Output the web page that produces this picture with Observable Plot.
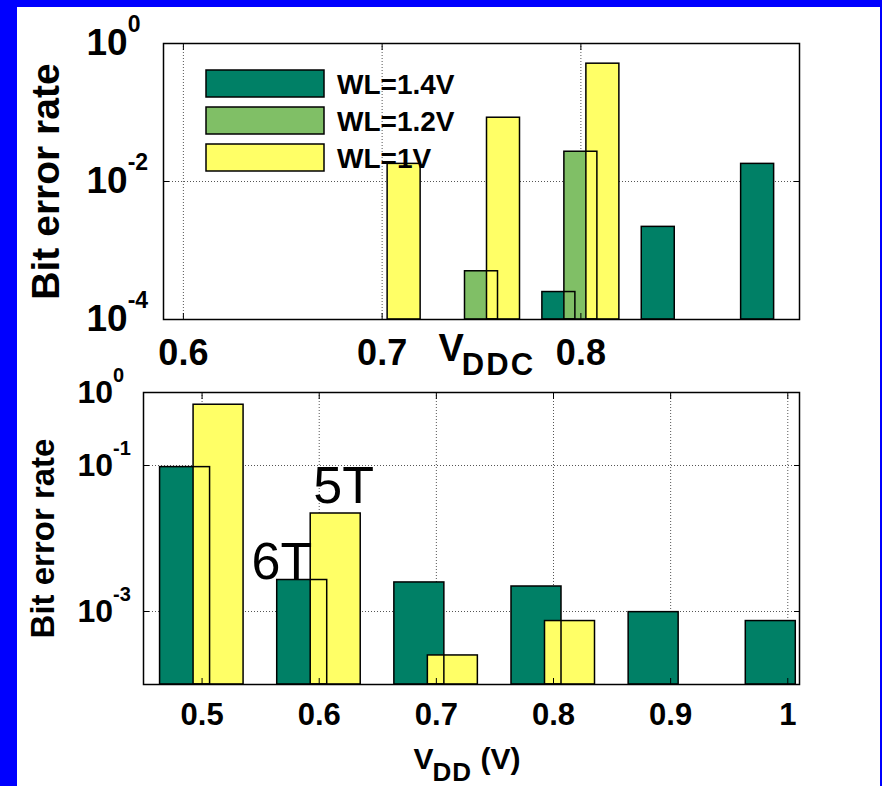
<!DOCTYPE html>
<html><head><meta charset="utf-8">
<script src="https://cdn.jsdelivr.net/npm/d3@7"></script>
<script src="https://cdn.jsdelivr.net/npm/@observablehq/plot@0.6"></script>
<style>
html,body{margin:0;padding:0;background:#0000ff;width:882px;height:786px;overflow:hidden;}
#panel{position:absolute;left:17px;top:7px;width:863px;height:779px;background:#fff;}
#top,#bottom{position:absolute;left:0;}
#top{top:0px}
#bottom{top:380px}
svg{overflow:visible}
</style></head><body>
<div id="panel"></div>
<div id="top"></div>
<div id="bottom"></div>
<script>
// ---------- top panel data ----------
const topVddc = [0.7, 0.75, 0.8, 0.85, 0.9];
const topWL14 = [null, null, 0.00025, 0.0022, 0.018];
const topWL12 = [null, 0.0005, 0.027, null, null];
const topWL10 = [0.018, 0.084, 0.51, null, null];
const topSeries = ["WL=1.4V", "WL=1.2V", "WL=1V"];
const topColors = ["#008066", "#80bf66", "#ffff66"];
const topXTicks = [0.6, 0.7, 0.8];
const topYTicks = [1e-4, 1e-2, 1];
const topXLabel = ["V", "DDC", ""];

// ---------- bottom panel data ----------
const botVdd = [0.5, 0.6, 0.7, 0.8, 0.9, 1];
const bot6T = [0.095, 0.0027, 0.0025, 0.0022, 0.00098, 0.00074];
const bot5T = [0.68, 0.022, 0.00025, 0.00074, null, null];
const botSeries = ["6T", "5T"];
const botColors = ["#008066", "#ffff66"];
const botXTicks = [0.5, 0.6, 0.7, 0.8, 0.9, 1];
const botYTicks = [1e-3, 1e-1, 1];
const botXLabel = ["V", "DD", " (V)"];
const yLabel = "Bit error rate";
const yMin = 1e-4, yMax = 1;

const font = "'Liberation Sans', Arial, Helvetica, sans-serif";

function rowsOf(xs, series) {
  return series.map(vals => xs.map((x, j) => ({x, v: vals[j]})).filter(d => d.v != null));
}

function barMarks(rows, colors, offsets, half) {
  const fills = rows.map((r, k) => Plot.rect(r, {
    x1: "x", x2: "x", y1: () => yMin, y2: "v",
    insetLeft: -half, insetRight: -half, dx: offsets[k],
    fill: colors[k]
  }));
  const outlines = rows.map((r, k) => Plot.rect(r, {
    x1: "x", x2: "x", y1: () => yMin, y2: "v",
    insetLeft: -half, insetRight: -half, dx: offsets[k],
    fill: "none", stroke: "black", strokeWidth: 1.5
  }));
  return [...fills, ...outlines];
}

function tickMarks(xt, yt) {
  const o = {tickSize: -6, fill: "none", stroke: "black", label: null};
  return [
    Plot.axisX(xt, {...o, anchor: "bottom"}),
    Plot.axisX(xt, {...o, anchor: "top"}),
    Plot.axisY(yt, {...o, anchor: "left"}),
    Plot.axisY(yt, {...o, anchor: "right"})
  ];
}

function gridMarks(xt, yt) {
  const g = {stroke: "#555", strokeOpacity: 1, strokeWidth: 1, strokeDasharray: "1,2"};
  return [Plot.gridX(xt, g), Plot.gridY(yt, g)];
}

function superscripts(svg, expSize, shift) {
  d3.select(svg).selectAll('g[aria-label="y-axis tick label"] text').each(function () {
    const parts = this.textContent.split("^");
    const sel = d3.select(this);
    sel.text(null);
    sel.append("tspan").text(parts[0]);
    sel.append("tspan").attr("dy", -shift).attr("font-size", expSize).text(parts[1]);
  });
}

function subscriptLabel(svg, parts, subSize, subShift, subDx, spacing) {
  const full = parts.join("");
  d3.select(svg).selectAll("text").filter(function () { return this.textContent === full; }).each(function () {
    const sel = d3.select(this);
    sel.text(null);
    sel.append("tspan").text(parts[0]);
    sel.append("tspan").attr("dy", subShift).attr("dx", subDx).attr("font-size", subSize)
      .attr("letter-spacing", spacing).text(parts[1]);
    if (parts[2]) sel.append("tspan").attr("dy", -subShift).attr("letter-spacing", 0).text(parts[2]);
  });
}

// ---------- top plot ----------
const topRows = rowsOf(topVddc, [topWL14, topWL12, topWL10]);
const topPlot = Plot.plot({
  width: 882, height: 390,
  marginLeft: 163, marginRight: 83, marginTop: 43, marginBottom: 71,
  style: {background: "transparent", overflow: "visible", fontFamily: font, color: "black"},
  x: {domain: [0.59, 0.91]},
  y: {type: "log", domain: [yMin, yMax]},
  marks: [
    ...gridMarks(topXTicks, topYTicks),
    ...barMarks(topRows, topColors, [-22, 0, 22], 16.5),
    Plot.frame({stroke: "black", strokeWidth: 1.5}),
    ...tickMarks(topXTicks, topYTicks),
    Plot.axisX(topXTicks, {anchor: "bottom", tickSize: 0, tickPadding: 20, tickFormat: d => String(d),
      fontSize: 36, fontWeight: "bold", label: null}),
    Plot.axisY(topYTicks, {anchor: "left", tickSize: 0, tickPadding: 77, textAnchor: "start",
      tickFormat: d => "10^" + Math.round(Math.log10(d)), fontSize: 37, fontWeight: "bold", label: null}),
    Plot.text([topXLabel.join("")], {text: d => d, frameAnchor: "bottom-left", dx: 275, dy: 41,
      textAnchor: "start", lineAnchor: "bottom", fontSize: 38, fontWeight: "bold"}),
    Plot.text([yLabel], {text: d => d, frameAnchor: "left", rotate: -90, dx: -105,
      textAnchor: "middle", lineAnchor: "bottom", fontSize: 39, fontWeight: "bold"})
  ]
});
superscripts(topPlot, 23, 23);
subscriptLabel(topPlot, topXLabel, 31, 14, -2, 2);
// legend
const lg = d3.select(topPlot).append("g").attr("aria-label", "legend").attr("text-anchor", "start");
topSeries.forEach((s, k) => {
  lg.append("rect").attr("x", 206).attr("y", 70 + 37 * k).attr("width", 118).attr("height", 27)
    .attr("fill", topColors[k]).attr("stroke", "black").attr("stroke-width", 1.5);
  lg.append("text").attr("x", 337).attr("y", 94 + 37 * k).attr("font-size", 28)
    .attr("text-anchor", "start")
    .attr("font-weight", "bold").attr("font-family", font).attr("fill", "black").text(s);
});
document.getElementById("top").appendChild(topPlot);

// ---------- bottom plot ----------
const botRows = rowsOf(botVdd, [bot6T, bot5T]);
const ai = botVdd.indexOf(0.6);
const botPlot = Plot.plot({
  width: 882, height: 406,
  marginLeft: 143, marginRight: 83, marginTop: 12, marginBottom: 102,
  style: {background: "transparent", overflow: "visible", fontFamily: font, color: "black"},
  x: {domain: [0.45, 1.01]},
  y: {type: "log", domain: [yMin, yMax]},
  marks: [
    ...gridMarks(botXTicks, botYTicks),
    ...barMarks(botRows, botColors, [-17, 16.5], 25),
    Plot.frame({stroke: "black", strokeWidth: 1.5}),
    ...tickMarks(botXTicks, botYTicks),
    Plot.axisX(botXTicks, {anchor: "bottom", tickSize: 0, tickPadding: 18, tickFormat: d => String(d),
      fontSize: 31, fontWeight: "bold", label: null}),
    Plot.axisY(botYTicks, {anchor: "left", tickSize: 0, tickPadding: 66, textAnchor: "start",
      tickFormat: d => "10^" + Math.round(Math.log10(d)), fontSize: 32, fontWeight: "bold", label: null}),
    Plot.text([{x: botVdd[ai], v: bot6T[ai], t: botSeries[0]}], {x: "x", y: "v", text: "t",
      textAnchor: "end", lineAnchor: "bottom", dx: -7, dy: -1, fontSize: 52}),
    Plot.text([{x: botVdd[ai], v: bot5T[ai], t: botSeries[1]}], {x: "x", y: "v", text: "t",
      textAnchor: "start", lineAnchor: "bottom", dx: -6, dy: -11, fontSize: 52}),
    Plot.text([botXLabel.join("")], {text: d => d, frameAnchor: "bottom-left", dx: 270, dy: 84,
      textAnchor: "start", lineAnchor: "bottom", fontSize: 30, fontWeight: "bold"}),
    Plot.text([yLabel], {text: d => d, frameAnchor: "left", rotate: -90, dx: -90,
      textAnchor: "middle", lineAnchor: "bottom", fontSize: 33, fontWeight: "bold"})
  ]
});
superscripts(botPlot, 20, 21);
subscriptLabel(botPlot, botXLabel, 26, 12, -1, 1);
document.getElementById("bottom").appendChild(botPlot);
</script>
</body></html>
